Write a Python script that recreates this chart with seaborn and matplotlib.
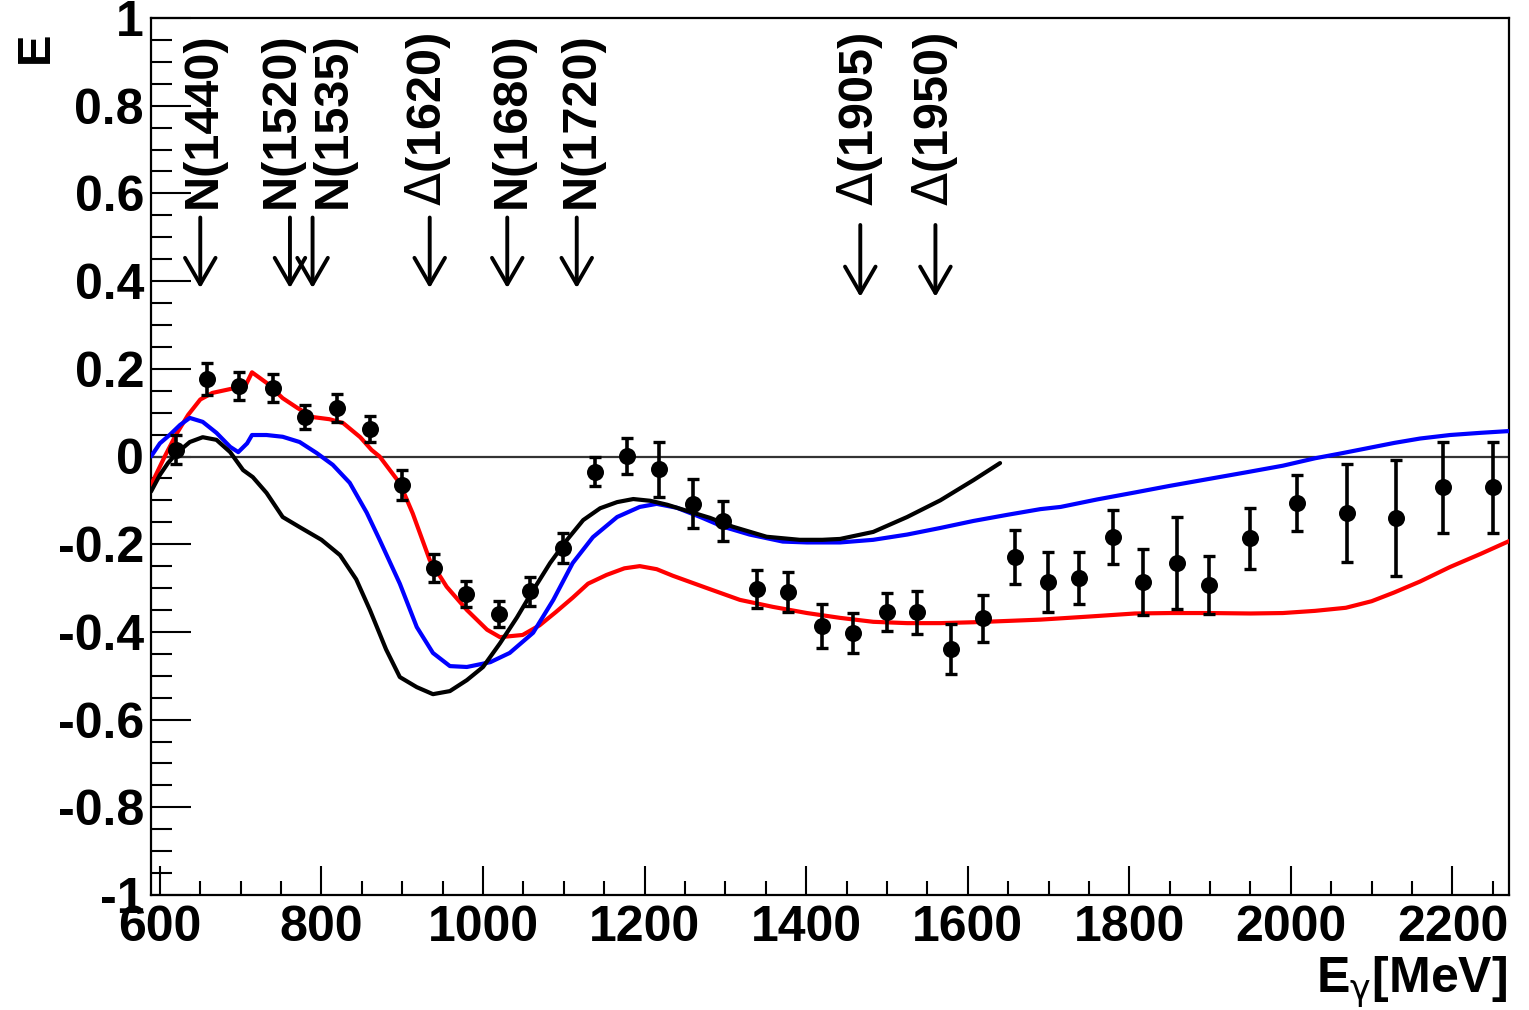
import matplotlib
matplotlib.use("Agg")
import matplotlib.pyplot as plt
from matplotlib.ticker import MultipleLocator, FixedLocator, FixedFormatter
import seaborn as sns

# measured helicity asymmetry E vs photon energy
data_x = [620, 658, 698, 740, 780, 819, 860, 900, 939, 979, 1020, 1058, 1099,
          1139, 1178, 1218, 1260, 1297, 1339, 1378, 1420, 1458, 1500, 1537,
          1579, 1619, 1659, 1699, 1738, 1780, 1817, 1859, 1899, 1950, 2008,
          2070, 2130, 2188, 2250]
data_e = [0.015, 0.177, 0.161, 0.156, 0.090, 0.111, 0.063, -0.065, -0.254,
          -0.314, -0.359, -0.307, -0.209, -0.035, 0.001, -0.029, -0.108,
          -0.147, -0.302, -0.309, -0.387, -0.403, -0.355, -0.355, -0.440,
          -0.369, -0.229, -0.286, -0.277, -0.184, -0.286, -0.243, -0.293,
          -0.187, -0.106, -0.129, -0.140, -0.070, -0.070]
data_err = [0.033, 0.037, 0.032, 0.032, 0.027, 0.032, 0.029, 0.034, 0.032,
            0.029, 0.029, 0.033, 0.035, 0.033, 0.041, 0.063, 0.056, 0.046,
            0.043, 0.046, 0.050, 0.045, 0.043, 0.049, 0.057, 0.053, 0.062,
            0.068, 0.059, 0.062, 0.075, 0.104, 0.066, 0.070, 0.064, 0.111,
            0.132, 0.104, 0.104]

# model predictions
red_x = [589, 606, 620, 635, 650, 665, 690, 705, 714, 732, 752, 770, 789, 810,
         827, 848, 862, 872, 897, 913, 934, 955, 980, 1005, 1021, 1049, 1070,
         1090, 1111, 1130, 1153, 1175, 1194, 1215, 1235, 1277, 1318, 1359,
         1401, 1442, 1483, 1525, 1566, 1607, 1649, 1690, 1750, 1807, 1850,
         1899, 1950, 1990, 2030, 2068, 2100, 2128, 2160, 2197, 2235, 2270]
red_e = [-0.065, 0.0, 0.05, 0.095, 0.13, 0.145, 0.155, 0.158, 0.192, 0.168,
         0.133, 0.111, 0.09, 0.085, 0.076, 0.044, 0.015, 0.0, -0.061, -0.13,
         -0.236, -0.297, -0.35, -0.395, -0.412, -0.407, -0.385, -0.355, -0.322,
         -0.29, -0.27, -0.255, -0.25, -0.257, -0.272, -0.3, -0.327, -0.343,
         -0.357, -0.368, -0.377, -0.38, -0.38, -0.378, -0.375, -0.372, -0.365,
         -0.358, -0.357, -0.357, -0.358, -0.357, -0.352, -0.345, -0.33, -0.31,
         -0.285, -0.252, -0.222, -0.193]

blue_x = [589, 600, 612, 625, 637, 653, 670, 687, 697, 708, 714, 732, 752, 773,
          794, 814, 835, 856, 872, 897, 918, 938, 959, 980, 1009, 1033, 1062,
          1087, 1111, 1136, 1166, 1194, 1215, 1240, 1269, 1297, 1330, 1371,
          1401, 1442, 1483, 1525, 1566, 1607, 1649, 1690, 1715, 1760, 1807,
          1850, 1899, 1945, 1990, 2030, 2059, 2095, 2128, 2160, 2197, 2235,
          2270]
blue_e = [0.0, 0.03, 0.049, 0.072, 0.088, 0.079, 0.054, 0.022, 0.01, 0.03,
          0.049, 0.049, 0.045, 0.033, 0.008, -0.019, -0.06, -0.128, -0.19,
          -0.29, -0.389, -0.448, -0.478, -0.48, -0.469, -0.448, -0.402, -0.327,
          -0.243, -0.184, -0.138, -0.115, -0.108, -0.117, -0.138, -0.16,
          -0.178, -0.194, -0.196, -0.196, -0.19, -0.178, -0.163, -0.147,
          -0.133, -0.12, -0.115, -0.098, -0.082, -0.067, -0.051, -0.036,
          -0.021, -0.004, 0.006, 0.019, 0.031, 0.041, 0.049, 0.054, 0.058]

black_x = [589, 600, 610, 621, 637, 653, 670, 687, 703, 715, 732, 752, 773, 800,
           823, 843, 860, 880, 897, 918, 938, 959, 980, 1000, 1021, 1042, 1062,
           1083, 1104, 1124, 1145, 1166, 1186, 1207, 1228, 1256, 1281, 1309,
           1351, 1392, 1420, 1442, 1483, 1525, 1566, 1607, 1640]
black_e = [-0.08, -0.042, -0.015, 0.008, 0.033, 0.044, 0.038, 0.01, -0.031,
           -0.047, -0.083, -0.138, -0.161, -0.19, -0.225, -0.28, -0.35, -0.44,
           -0.503, -0.526, -0.542, -0.535, -0.51, -0.48, -0.426, -0.367, -0.305,
           -0.243, -0.19, -0.145, -0.118, -0.104, -0.097, -0.101, -0.11,
           -0.126, -0.14, -0.16, -0.183, -0.19, -0.19, -0.188, -0.172, -0.138,
           -0.1, -0.054, -0.015]

# resonances marked with arrows
res_labels = ["N(1440)", "N(1520)", "N(1535)", r"$\Delta$(1620)", "N(1680)",
              "N(1720)", r"$\Delta$(1905)", r"$\Delta$(1950)"]
res_egamma = [650, 761, 789, 934, 1030, 1116, 1467, 1560]

y_ticks = [-1, -0.8, -0.6, -0.4, -0.2, 0, 0.2, 0.4, 0.6, 0.8, 1]
y_ticklabels = ["-1", "-0.8", "-0.6", "-0.4", "-0.2", "0", "0.2", "0.4",
                "0.6", "0.8", "1"]

sns.set_style("ticks")
plt.rcParams["font.family"] = ["Liberation Sans", "DejaVu Sans"]
plt.rcParams["font.weight"] = "bold"
plt.rcParams["text.color"] = "black"
plt.rcParams["xtick.color"] = "black"
plt.rcParams["ytick.color"] = "black"
# thin greek letters like ROOT's symbol font
plt.rcParams["mathtext.fontset"] = "custom"
plt.rcParams["mathtext.rm"] = "DejaVu Sans:weight=normal"
plt.rcParams["mathtext.it"] = "DejaVu Sans:style=italic:weight=normal"
plt.rcParams["mathtext.bf"] = "DejaVu Sans:weight=bold"
plt.rcParams["mathtext.sf"] = "DejaVu Sans:weight=normal"

fig = plt.figure(figsize=(15.29, 10.10), dpi=100)
ax = fig.add_axes([151 / 1529, 1 - 895 / 1010, 1358 / 1529, 877 / 1010])

ax.axhline(0, color="#333333", lw=1.6, zorder=1)

sns.lineplot(x=red_x, y=red_e, color="#ff0000", lw=3, sort=False,
             estimator=None, ax=ax, zorder=3)
sns.lineplot(x=blue_x, y=blue_e, color="#0000ff", lw=3, sort=False,
             estimator=None, ax=ax, zorder=3)
sns.lineplot(x=black_x, y=black_e, color="black", lw=3, sort=False,
             estimator=None, ax=ax, zorder=3)

ax.errorbar(data_x, data_e, yerr=data_err, fmt="none", ecolor="black",
            elinewidth=2.6, capsize=4, capthick=2.4, zorder=4)
sns.scatterplot(x=data_x, y=data_e, color="black", s=150, linewidth=0,
                ax=ax, zorder=5)

# labels and arrows for the resonances
label_shift = [3, -9, 21, -2, 5, 5, 0, 0]
for lab, eg, sh in zip(res_labels, res_egamma, label_shift):
    delta_high = eg > 1400
    tail = 0.528 if delta_high else 0.545
    tip = 0.364 if delta_high else 0.384
    ax.annotate(lab, xy=(eg, 0.968), xytext=(sh * 0.72, 0),
                textcoords="offset points", rotation=90, ha="center",
                va="top", fontsize=35, fontweight="bold")
    ax.annotate("", xy=(eg, tip), xytext=(eg, tail),
                arrowprops=dict(arrowstyle="->,head_length=0.95,head_width=0.55",
                                lw=2.8, color="black", shrinkA=0, shrinkB=0,
                                mutation_scale=20))

ax.set_xlim(589, 2270)
ax.set_ylim(-1, 1)
ax.xaxis.set_major_locator(MultipleLocator(200))
ax.xaxis.set_minor_locator(MultipleLocator(50))
ax.yaxis.set_major_locator(FixedLocator(y_ticks))
ax.yaxis.set_major_formatter(FixedFormatter(y_ticklabels))
ax.yaxis.set_minor_locator(MultipleLocator(0.05))

ax.tick_params(axis="both", which="both", direction="in", top=False,
               right=False, color="black", labelcolor="black")
ax.tick_params(axis="x", which="major", length=21, width=1.5, labelsize=36,
               pad=7)
ax.tick_params(axis="x", which="minor", length=10, width=1.5)
ax.tick_params(axis="y", which="major", length=29, width=1.5, labelsize=36,
               pad=5)
ax.tick_params(axis="y", which="minor", length=15, width=1.5)
for lbl in ax.get_xticklabels() + ax.get_yticklabels():
    lbl.set_fontweight("bold")
for sp in ax.spines.values():
    sp.set_visible(True)
    sp.set_linewidth(1.6)
    sp.set_color("black")

ax.set_xlabel("")
ax.set_ylabel("")
fig.text(36 / 1529, 1 - 47 / 1010, "E", rotation=90, ha="center",
         va="center", fontsize=34, fontweight="bold")
fig.text(1507 / 1529, 1 - 993 / 1010, r"E$_{\mathrm{\gamma}}$[MeV]",
         ha="right", va="baseline", fontsize=36, fontweight="bold")

fig.savefig("out.png", dpi=100)
